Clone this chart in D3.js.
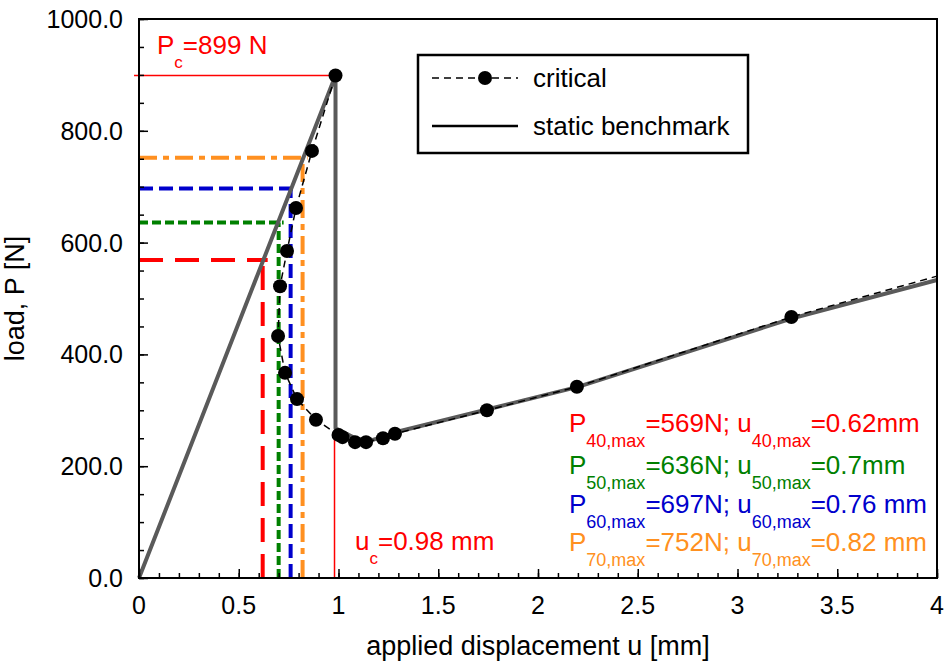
<!DOCTYPE html>
<html><head><meta charset="utf-8">
<script src="https://cdn.jsdelivr.net/npm/d3@7"></script>
<style>body{margin:0;background:#fff} svg{display:block} text{font-family:"Liberation Sans",Arial,Helvetica,sans-serif}</style>
</head><body><svg id="c" width="944" height="662"></svg>
<script>
// critical series (markers)
const critU = [0.985, 0.867, 0.787, 0.742, 0.707, 0.697, 0.732, 0.792, 0.887, 1.0, 1.02, 1.083, 1.138, 1.223, 1.283, 1.744, 2.195, 3.27];
const critP = [899, 764, 662, 585, 522, 433, 367, 320, 283, 256, 252, 243, 243, 250, 258, 300, 342, 467];
// end of the critical dashed line at the right border (no marker)
const critEndU = 4.0, critEndP = 540;
// static benchmark
const benchU = [0, 0.985, 0.985, 1.13, 1.3, 1.74, 2.2, 3.27, 4.0];
const benchP = [0, 899, 268, 242, 262, 301, 342, 464, 533];
// max load levels
const levels = ["40", "50", "60", "70"];
const pMax = [569, 636, 697, 752];
const uMax = [0.62, 0.70, 0.76, 0.82];
const uMaxText = ["0.62mm", "0.7mm", "0.76 mm", "0.82 mm"];
const Pc = 899, uc = 0.98;
const xTicks = [0, 0.5, 1, 1.5, 2, 2.5, 3, 3.5, 4];
const yTicks = [0, 200, 400, 600, 800, 1000];
const xLabels = ["0", "0.5", "1", "1.5", "2", "2.5", "3", "3.5", "4"];
const yLabels = ["0.0", "200.0", "400.0", "600.0", "800.0", "1000.0"];

const levelColors = ["#ff0000", "#008000", "#0000cc", "#ff9020"];
const levelDash = ["24,12", "9,4", "14,6", "18,6,6,6"];
const L = 139, R = 937, T = 19, B = 578;

const svg = d3.select("#c");
const x = d3.scaleLinear().domain([0, 4]).range([L, R]);
const y = d3.scaleLinear().domain([0, 1000]).range([B, T]);
const line = d3.line().x(d => x(d[0])).y(d => y(d[1]));

// colored max lines
levels.forEach((lv, i) => {
  svg.append("path")
    .attr("d", line([[0, pMax[i]], [uMax[i], pMax[i]]]) + "h5")
    .attr("fill", "none").attr("stroke", levelColors[i]).attr("stroke-width", 4)
    .attr("stroke-dasharray", levelDash[i]);
  svg.append("path")
    .attr("d", line([[uMax[i], 0], [uMax[i], pMax[i]]]))
    .attr("fill", "none").attr("stroke", levelColors[i]).attr("stroke-width", 4)
    .attr("stroke-dasharray", levelDash[i]);
});

// red reference lines
svg.append("path").attr("d", line([[-0.025, Pc], [0.985, Pc]]))
  .attr("stroke", "#ff0000").attr("stroke-width", 1.5).attr("fill", "none");
svg.append("path").attr("d", line([[uc, 0], [uc, 260]]))
  .attr("stroke", "#ff0000").attr("stroke-width", 1.5).attr("fill", "none");

// benchmark
svg.append("path").attr("d", line(benchU.map((u, i) => [u, benchP[i]])))
  .attr("fill", "none").attr("stroke", "#5a5a5a").attr("stroke-width", 4)
  .attr("stroke-linejoin", "round");

// critical
const critPts = critU.map((u, i) => [u, critP[i]]);
svg.append("path").attr("d", line(critPts.concat([[critEndU, critEndP]])))
  .attr("fill", "none").attr("stroke", "#000").attr("stroke-width", 1.5)
  .attr("stroke-dasharray", "7,5");
svg.selectAll("circle.m").data(critPts).enter().append("circle")
  .attr("class", "m").attr("cx", d => x(d[0])).attr("cy", d => y(d[1])).attr("r", 7).attr("fill", "#000");

// frame
svg.append("rect").attr("x", L).attr("y", T).attr("width", R - L).attr("height", B - T)
  .attr("fill", "none").attr("stroke", "#000").attr("stroke-width", 2);

// ticks
const gx = svg.append("g").attr("transform", `translate(0,${B})`);
gx.call(d3.axisBottom(x).tickValues(d3.range(0, 4.001, 0.1)).tickSize(-5).tickFormat(""));
gx.call(g => g.select(".domain").remove());
const gx2 = svg.append("g").attr("transform", `translate(0,${B})`);
gx2.call(d3.axisBottom(x).tickValues(xTicks).tickSize(-9).tickFormat(""));
gx2.call(g => g.select(".domain").remove());
const gy = svg.append("g").attr("transform", `translate(${L},0)`);
gy.call(d3.axisLeft(y).tickValues(d3.range(0, 1001, 50)).tickSize(-5).tickFormat(""));
gy.call(g => g.select(".domain").remove());
const gy2 = svg.append("g").attr("transform", `translate(${L},0)`);
gy2.call(d3.axisLeft(y).tickValues(yTicks).tickSize(-9).tickFormat(""));
gy2.call(g => g.select(".domain").remove());
svg.selectAll(".tick line").attr("stroke", "#000").attr("stroke-width", 1.5);

// tick labels
svg.selectAll("text.xl").data(xTicks).enter().append("text").attr("class", "xl")
  .attr("x", d => x(d)).attr("y", 614).attr("text-anchor", "middle")
  .attr("font-size", 25).text((d, i) => xLabels[i]);
svg.selectAll("text.yl").data(yTicks).enter().append("text").attr("class", "yl")
  .attr("x", 123).attr("y", d => y(d) + 9).attr("text-anchor", "end")
  .attr("font-size", 25).text((d, i) => yLabels[i]);

// axis titles
svg.append("text").attr("x", (L + R) / 2).attr("y", 655).attr("text-anchor", "middle")
  .attr("font-size", 27).text("applied displacement u [mm]");
svg.append("text").attr("transform", `translate(24,${(T + B) / 2}) rotate(-90)`)
  .attr("text-anchor", "middle").attr("font-size", 27).text("load, P [N]");

// text with subscripts
function subText(px, py, parts, color, size, subSize, shift) {
  const t = svg.append("text").attr("x", px).attr("y", py).attr("fill", color).attr("font-size", size);
  let cur = 0;
  parts.forEach(p => {
    const s = t.append("tspan").text(p[0]);
    if (p[1]) { s.attr("dy", shift - cur).attr("font-size", subSize); cur = shift; }
    else { s.attr("dy", -cur); cur = 0; }
  });
}
subText(157, 54, [["P"], ["c", 1], ["=" + Pc + " N"]], "#ff0000", 26, 17, 14);
subText(355, 550, [["u"], ["c", 1], ["=" + uc + " mm"]], "#ff0000", 26, 17, 14);
const baseY = [432, 474, 513, 551];
levels.forEach((lv, i) => {
  subText(569, baseY[i], [["P"], [lv + ",max", 1], ["=" + pMax[i] + "N; u"], [lv + ",max", 1], ["=" + uMaxText[i]]],
    levelColors[i], 26, 18, 15);
});

// legend
svg.append("rect").attr("x", 418).attr("y", 55).attr("width", 330).attr("height", 98)
  .attr("fill", "#fff").attr("stroke", "#000").attr("stroke-width", 2.5);
svg.append("line").attr("x1", 432).attr("x2", 518).attr("y1", 78).attr("y2", 78)
  .attr("stroke", "#000").attr("stroke-width", 1.5).attr("stroke-dasharray", "7,5");
svg.append("circle").attr("cx", 485).attr("cy", 78).attr("r", 7).attr("fill", "#000");
svg.append("text").attr("x", 533).attr("y", 87).attr("font-size", 26).text("critical");
svg.append("line").attr("x1", 432).attr("x2", 518).attr("y1", 126).attr("y2", 126)
  .attr("stroke", "#000").attr("stroke-width", 2.5);
svg.append("text").attr("x", 533).attr("y", 135).attr("font-size", 26).text("static benchmark");
</script></body></html>
